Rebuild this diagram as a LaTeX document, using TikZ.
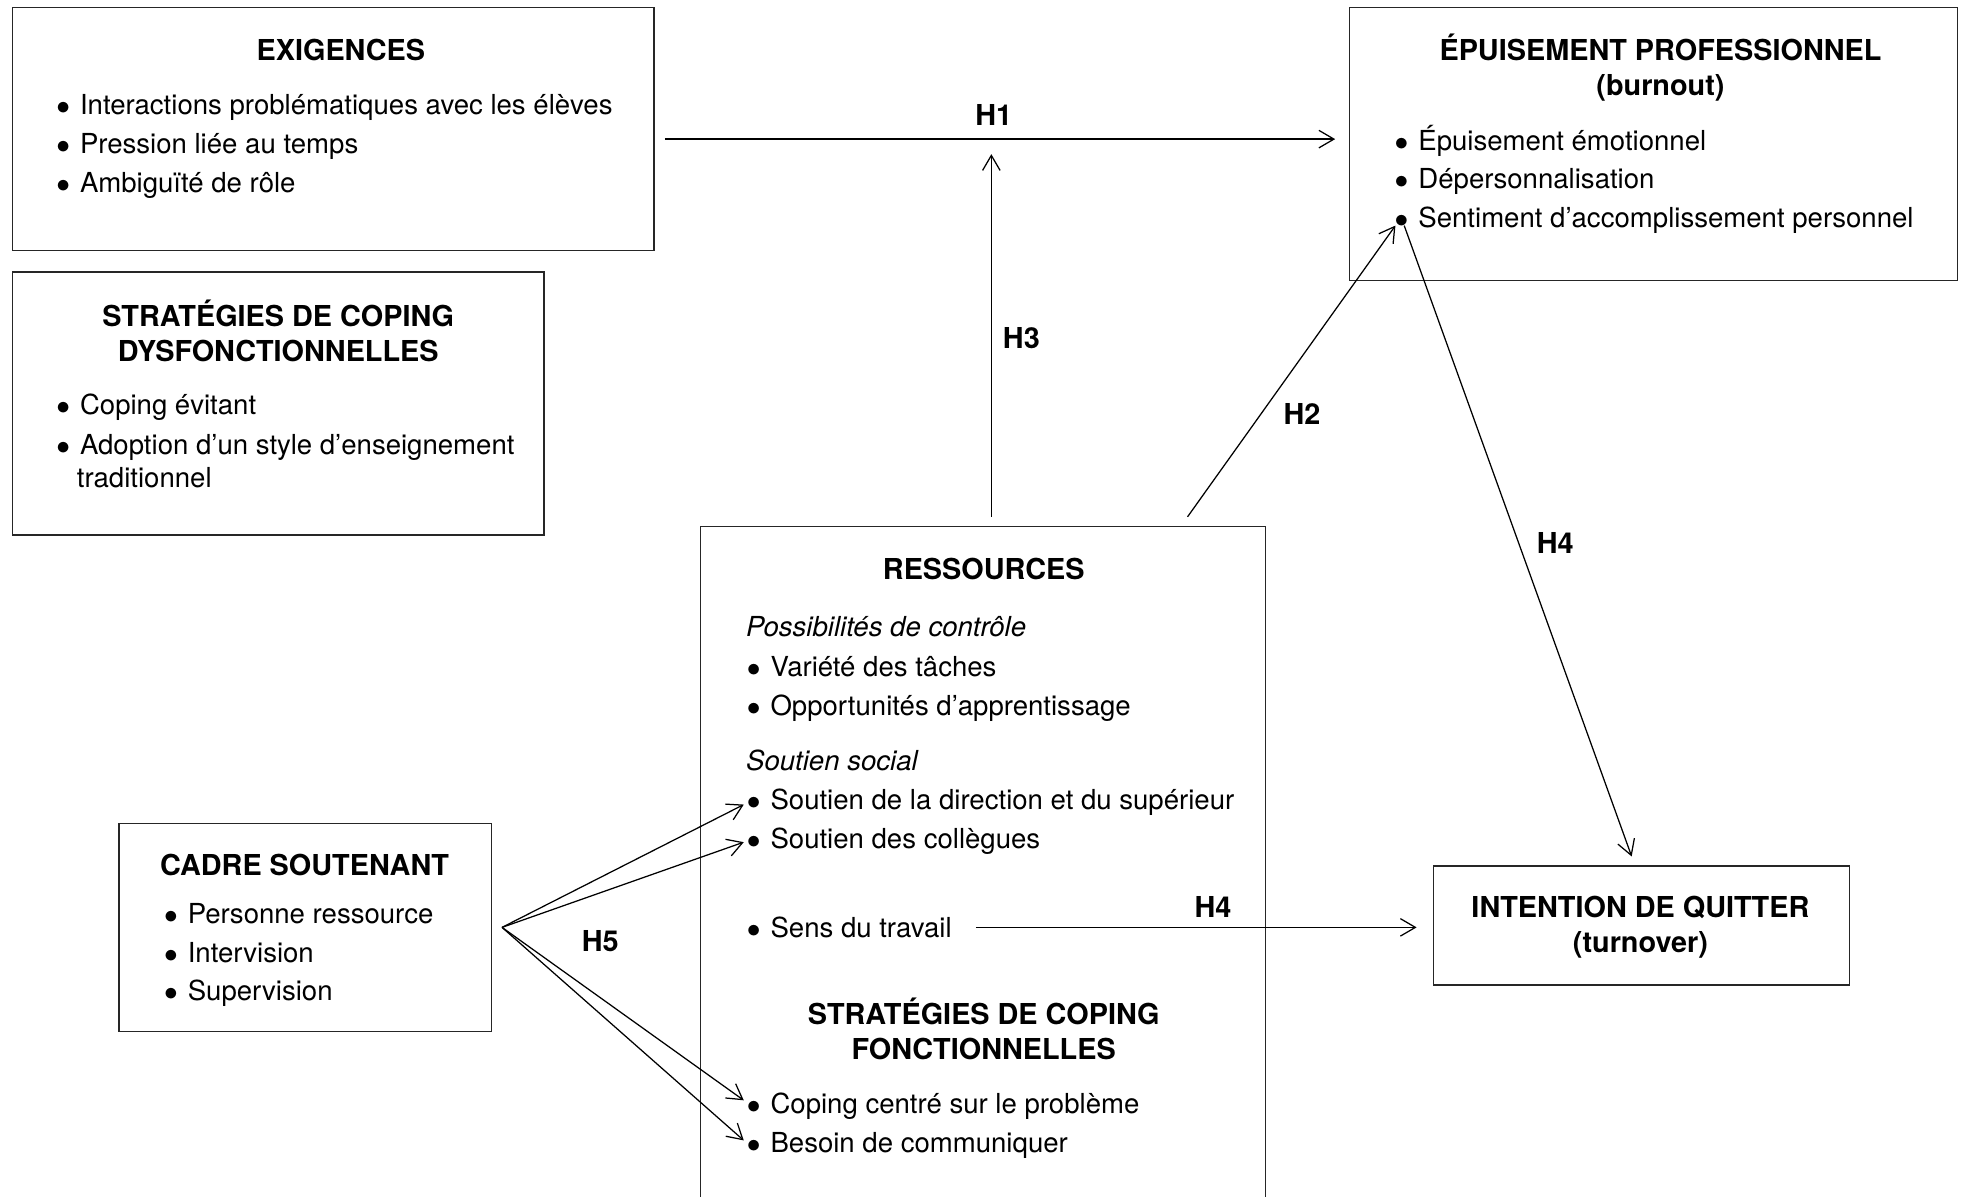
\documentclass[tikz,border=0pt]{standalone}
\usepackage{fontspec}
\setmainfont{TeX Gyre Heros}
\usetikzlibrary{arrows.meta,positioning,fit}
\newcommand{\puce}{$\bullet$\hspace{4pt}}
\tikzset{
    bloc/.style ={
        draw=black!85,
        line width=0.6pt,
        inner sep=0pt
    },
    titre/.style ={
        font=\fontsize{11.5}{14}\selectfont\bfseries,
        align=center,
        inner sep=0pt
    },
    item/.style ={
        font=\fontsize{11}{13}\selectfont,
        anchor=west,
        inner sep=0pt,
        text height=10pt,
        text depth=2.3pt
    },
    sous/.style ={
        item,
        font=\fontsize{11}{13}\selectfont\itshape
    },
    hyp/.style ={
        font=\fontsize{11.5}{14}\selectfont\bfseries,
        inner sep=0pt
    },
    lien/.style ={
        -{Straight Barb[length=6pt,width=7pt]},
        line width=0.5pt
    }
}
\begin{document}
\begin{tikzpicture}[x=0.5pt,y=-0.5pt]
    \useasboundingbox (0,0) rectangle (1568,955);
    % boites
    \node[bloc,fit={(10,6) (522,200)}] (exig) {};
    \node[bloc,fit={(10,217) (434,427)}] (dysf) {};
    \node[bloc,fit={(1077,6) (1562,224)}] (epuis) {};
    \node[bloc,fit={(559,420) (1010,975)}] (ress) {};
    \node[bloc,fit={(95,657) (392,823)}] (cadre) {};
    \node[bloc,fit={(1144,691) (1476,786)}] (quit) {};
    % exigences
    \node[titre] (exigT) at (272,40) {EXIGENCES};
    \node[item] (exig1) at (44.5,84) {\puce Interactions problématiques avec les élèves};
    \node[item] (exig2) at ([yshift=-15.5pt]exig1.west) {\puce Pression liée au temps};
    \node[item] (exig3) at ([yshift=-15.5pt]exig2.west) {\puce Ambiguïté de rôle};
    % coping dysfonctionnel
    \node[titre] (dysfT) at (222,264) {STRATÉGIES DE COPING\\DYSFONCTIONNELLES};
    \node[item] (dysf1) at (44.5,323) {\puce Coping évitant};
    \node[item] (dysf2) at ([yshift=-16pt]dysf1.west) {\puce Adoption d’un style d’enseignement};
    \node[item] (dysf3) at ([xshift=8.25pt,yshift=-13pt]dysf2.west) {traditionnel};
    % burnout
    \node[titre] (epuisT) at (1325,54) {ÉPUISEMENT PROFESSIONNEL\\(burnout)};
    \node[item] (epuis1) at (1112.5,112) {\puce Épuisement émotionnel};
    \node[item] (epuis2) at ([yshift=-15.5pt]epuis1.west) {\puce Dépersonnalisation};
    \node[item] (epuis3) at ([yshift=-15.5pt]epuis2.west) {\puce Sentiment d’accomplissement personnel};
    % ressources
    \node[titre] (ressT) at (785,454) {RESSOURCES};
    \node[sous] (ressA) at (595,500) {Possibilités de contrôle};
    \node[item] (ress1) at (595.5,532) {\puce Variété des tâches};
    \node[item] (ress2) at ([yshift=-15.5pt]ress1.west) {\puce Opportunités d’apprentissage};
    \node[sous] (ressB) at (595,607) {Soutien social};
    \node[item] (ress3) at (595.5,638) {\puce Soutien de la direction et du supérieur};
    \node[item] (ress4) at ([yshift=-15.5pt]ress3.west) {\puce Soutien des collègues};
    \node[item] (ress5) at (595.5,740) {\puce Sens du travail};
    \node[titre] (fonctT) at (785,821) {STRATÉGIES DE COPING\\FONCTIONNELLES};
    \node[item] (ress6) at (595.5,881) {\puce Coping centré sur le problème};
    \node[item] (ress7) at ([yshift=-15.5pt]ress6.west) {\puce Besoin de communiquer};
    % cadre soutenant
    \node[titre] (cadreT) at (243,690) {CADRE SOUTENANT};
    \node[item] (cadre1) at (130.5,729) {\puce Personne ressource};
    \node[item] (cadre2) at ([yshift=-15.5pt]cadre1.west) {\puce Intervision};
    \node[item] (cadre3) at ([yshift=-15.5pt]cadre2.west) {\puce Supervision};
    % intention de quitter
    \node[titre] (quitT) at (1309,740) {INTENTION DE QUITTER\\(turnover)};
    % hypotheses
    \node[hyp] (h1) at (793,92) {H1};
    \node[hyp] (h3) at (815,270) {H3};
    \node[hyp] (h2) at (1039,330) {H2};
    \node[hyp] (h4) at (1241,433) {H4};
    \node[hyp] (h4b) at (968,724) {H4};
    \node[hyp] (h5) at (479,751) {H5};
    % fleches
    \draw[lien] ([xshift=4pt,yshift=-4pt]exig.east) -- ([xshift=-5.5pt,yshift=2pt]epuis.west) coordinate[pos=.487] (h1mid);
    \draw[lien] ([yshift=3.5pt]h1mid |- ress.north) -- ([yshift=-6pt]h1mid);
    \draw[lien] ([xshift=-31.5pt,yshift=3.5pt]ress.north east) -- ([xshift=0.5pt,yshift=-3pt]epuis3.west);
    \draw[lien] ([xshift=4pt,yshift=-3pt]epuis3.west) -- ([xshift=-4pt,yshift=3.5pt]quit.north);
    \draw[lien] ([xshift=9.5pt]ress5.east) -- ([xshift=-6.5pt]ress5.east -| quit.west);
    \draw[lien] ([xshift=4pt]cadre.east) -- ([xshift=-1pt,yshift=-2pt]ress3.west);
    \draw[lien] ([xshift=4pt]cadre.east) -- ([xshift=-1pt,yshift=-1.5pt]ress4.west);
    \draw[lien] ([xshift=4pt]cadre.east) -- ([xshift=-1pt,yshift=1.5pt]ress6.west);
    \draw[lien] ([xshift=4pt]cadre.east) -- ([xshift=-1pt,yshift=1pt]ress7.west);
\end{tikzpicture}
\end{document}
